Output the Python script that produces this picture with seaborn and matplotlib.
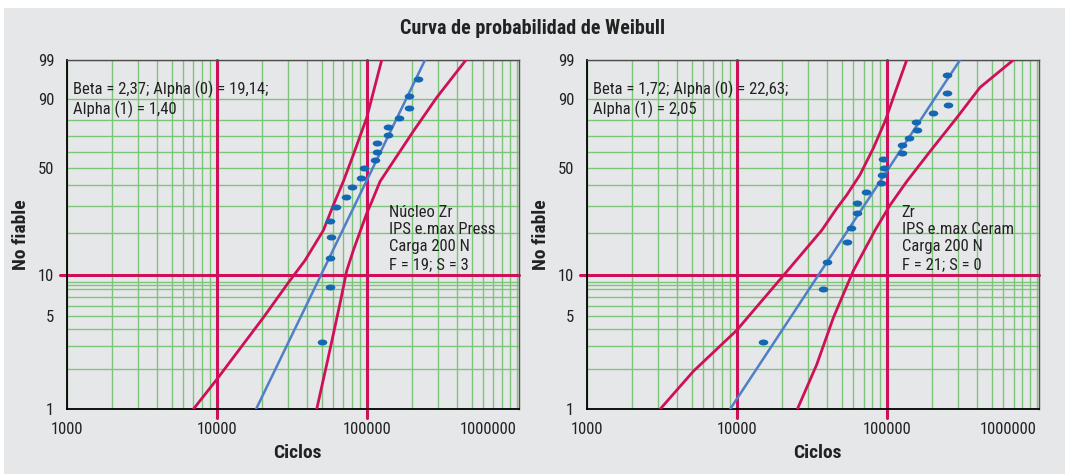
import numpy as np
import matplotlib
matplotlib.use("Agg")
import matplotlib.pyplot as plt
from matplotlib.path import Path
from matplotlib.transforms import Affine2D
from matplotlib.patches import Rectangle
import seaborn as sns

BG = "#E6E7E8"
GREEN = "#7DC47B"
RED = "#CE1058"
BLUE_LINE = "#4F7FC6"
BLUE_DOT = "#1467B3"

# ---- panel 1: Núcleo Zr / IPS e.max Press ----
press_cycles = [220800, 191400, 191400, 163400, 139300, 139300, 117700, 117700, 113500,
                95900, 91200, 79800, 72800, 62400, 56900, 57500, 56900, 56900, 50100]
press_pct = [96.3, 91.4, 86.1, 81.2, 75.8, 70.6, 65.6, 60.3, 55.1,
             49.7, 44.3, 39.3, 34.1, 29.3, 23.8, 18.6, 13.2, 8.2, 3.2]
press_fit_cycles = [18280, 244800]
press_fit_pct = [1.0, 99.0]
press_lo_cycles = [6980, 10000, 20470, 30830, 38800, 51400, 59900, 69800, 81500, 100000, 125900]
press_lo_pct = [1.0, 1.68, 4.9, 9.2, 12.8, 20.7, 30.3, 42.1, 58.3, 81.2, 99.0]
press_hi_cycles = [46400, 54100, 59900, 66300, 73600, 81500, 90200, 100000, 108000,
                   122700, 150400, 204600, 293000, 458900]
press_hi_pct = [1.0, 2.18, 3.68, 6.2, 10.8, 15.1, 20.2, 26.8, 31.8,
                42.1, 54.0, 73.3, 90.8, 99.0]
press_params = "Beta = 2,37; Alpha (0) = 19,14;\nAlpha (1) = 1,40"
press_info = "Núcleo Zr\nIPS e.max Press\nCarga 200 N\nF = 19; S = 3"

# ---- panel 2: Zr / IPS e.max Ceram ----
ceram_cycles = [253600, 253600, 255000, 202600, 156700, 159200, 140200, 125900, 125900,
                94000, 95500, 92600, 91200, 72400, 63400, 63400, 57800, 54400,
                40000, 37800, 15000]
ceram_pct = [97.1, 92.5, 87.6, 83.6, 79.0, 74.2, 69.1, 64.6, 59.6,
             55.7, 49.9, 45.5, 41.2, 36.4, 31.4, 27.0, 21.6, 17.2,
             12.4, 7.9, 3.2]
ceram_fit_cycles = [9020, 308000]
ceram_fit_pct = [1.0, 99.0]
ceram_lo_cycles = [3080, 5140, 10000, 20470, 36850, 46400, 54100, 66300, 81500, 97500, 110700, 135900]
ceram_lo_pct = [1.0, 1.94, 3.94, 9.97, 20.7, 28.9, 35.0, 45.9, 62.6, 79.3, 90.8, 99.0]
ceram_hi_cycles = [25330, 34150, 44100, 59900, 83500, 105200, 135900, 194400, 293000, 418800, 698800]
ceram_hi_pct = [1.0, 2.18, 4.9, 10.8, 20.7, 30.3, 42.1, 60.4, 81.2, 94.2, 99.0]
ceram_params = "Beta = 1,72; Alpha (0) = 22,63;\nAlpha (1) = 2,05"
ceram_info = "Zr\nIPS e.max Ceram\nCarga 200 N\nF = 21; S = 0"

y_major = [1, 5, 10, 50, 90, 99]
y_minor = [2, 3, 4, 6, 7, 8, 8.5, 9, 20, 30, 40, 60, 70, 80]
x_major = [1000, 10000, 100000, 1000000]
x_labels = ["1000", "10000", "100000", "1000000"]

sns.set_style("white")
plt.rcParams["font.family"] = ["Roboto Condensed", "Liberation Sans", "DejaVu Sans"]


def weib(p):
    p = np.clip(np.asarray(p, dtype=float), 1e-6, 100 - 1e-6) / 100.0
    return np.log(-np.log(1.0 - p))


def weib_inv(u):
    return 100.0 * (1.0 - np.exp(-np.exp(np.asarray(u, dtype=float))))


ell = Path.unit_circle().transformed(Affine2D().scale(1.6, 1.0))


def weibull_panel(ax, pts_x, pts_y, fit_x, fit_y, lo_x, lo_y, hi_x, hi_y, params, info, info_x):
    ax.set_facecolor(BG)
    ax.set_xscale("log")
    ax.set_yscale("function", functions=(weib, weib_inv))
    ax.set_xlim(1000, 1.04e6)
    ax.set_ylim(1, 99)

    ax.set_xticks(x_major)
    ax.set_xticklabels(x_labels)
    ax.set_xticks([m * d for d in (1e3, 1e4, 1e5) for m in range(2, 10)], minor=True)
    ax.xaxis.set_minor_formatter(plt.NullFormatter())
    ax.set_yticks(y_major)
    ax.set_yticklabels([str(v) for v in y_major])
    ax.set_yticks(y_minor, minor=True)
    ax.yaxis.set_minor_formatter(plt.NullFormatter())
    ax.get_xticklabels()[-1].set_horizontalalignment("right")

    ax.grid(which="both", color=GREEN, lw=1.0, zorder=0)
    ax.set_axisbelow(True)
    ax.tick_params(which="major", length=7, width=1, color="black",
                   labelsize=12, pad=2, direction="out", labelcolor="#222222")
    ax.tick_params(which="minor", length=0)

    for s in ("left", "bottom"):
        ax.spines[s].set_color("black")
        ax.spines[s].set_linewidth(1.3)
    for s in ("top", "right"):
        ax.spines[s].set_color("#4D4D4D")
        ax.spines[s].set_linewidth(1.0)

    for v in (1e4, 1e5):
        ax.axvline(v, ymin=-0.025, ymax=1, color=RED, lw=2.2, clip_on=False, zorder=1.5)
    ax.axhline(10, xmin=-0.014, xmax=1, color=RED, lw=2.2, clip_on=False, zorder=1.5)

    sns.lineplot(x=lo_x, y=lo_y, ax=ax, color=RED, lw=2.0, sort=False, estimator=None, zorder=3)
    sns.lineplot(x=hi_x, y=hi_y, ax=ax, color=RED, lw=2.0, sort=False, estimator=None, zorder=3)
    sns.lineplot(x=fit_x, y=fit_y, ax=ax, color=BLUE_LINE, lw=1.8, sort=False, estimator=None, zorder=3)
    sns.scatterplot(x=pts_x, y=pts_y, ax=ax, marker=ell, s=48, color=BLUE_DOT,
                    linewidth=0, zorder=4)

    ax.text(0.013, 0.888, params, transform=ax.transAxes, ha="left", va="center",
            fontsize=12, color="#222222", zorder=5)
    ax.text(info_x, 0.49, info, transform=ax.transAxes, ha="left", va="center",
            fontsize=12, color="#222222", linespacing=1.2, zorder=5)

    ax.set_xlabel("Ciclos", fontsize=14, fontweight="bold", color="#222222")
    ax.xaxis.set_label_coords(0.51, -0.1)
    ax.set_ylabel("No fiable", fontsize=14, fontweight="bold", color="#222222")
    ax.yaxis.set_label_coords(-0.082, 0.5)


fig = plt.figure(figsize=(10.65, 4.74), dpi=100)
fig.patch.set_facecolor("white")
fig.add_artist(Rectangle((4 / 1065, 0), 1, 1 - 8 / 474, transform=fig.transFigure,
                         facecolor=BG, edgecolor="none", zorder=-10))

ax1 = fig.add_axes([0.0626, 0.1365, 0.425, 0.737])
ax2 = fig.add_axes([0.5509, 0.1365, 0.425, 0.737])

weibull_panel(ax1, press_cycles, press_pct, press_fit_cycles, press_fit_pct,
              press_lo_cycles, press_lo_pct, press_hi_cycles, press_hi_pct,
              press_params, press_info, 0.713)
weibull_panel(ax2, ceram_cycles, ceram_pct, ceram_fit_cycles, ceram_fit_pct,
              ceram_lo_cycles, ceram_lo_pct, ceram_hi_cycles, ceram_hi_pct,
              ceram_params, ceram_info, 0.696)

fig.text(0.5, 1 - 28 / 474, "Curva de probabilidad de Weibull", ha="center", va="center",
         fontsize=14.5, fontweight="bold", color="#222222")

fig.savefig("out.png", dpi=100, facecolor=fig.get_facecolor())
